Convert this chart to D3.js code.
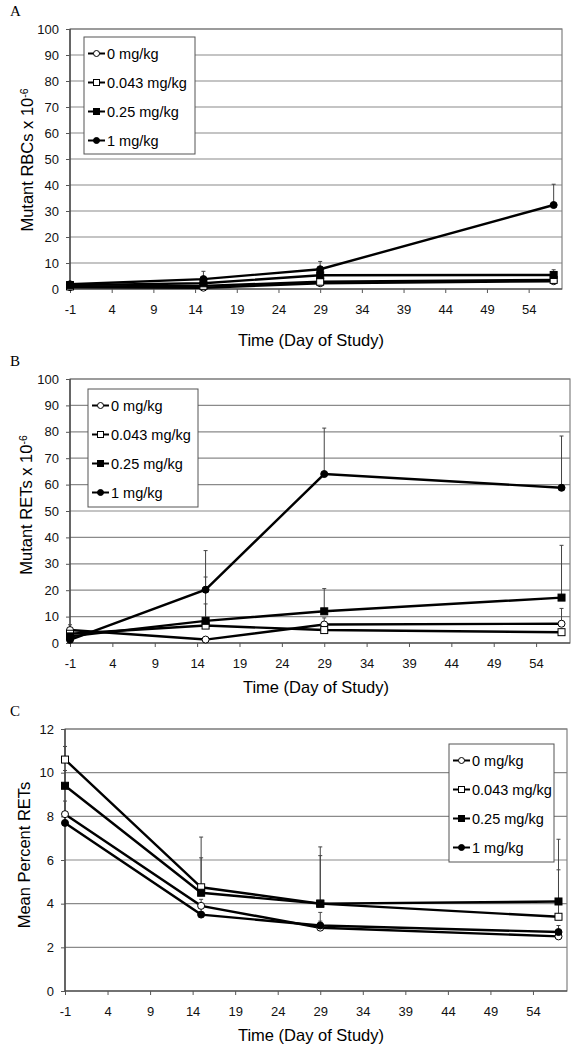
<!DOCTYPE html>
<html><head><meta charset="utf-8">
<script src="https://cdn.jsdelivr.net/npm/d3@7"></script>
<style>body{margin:0;background:#fff}svg{display:block}</style>
</head><body><svg id="c" width="581" height="1050"></svg>
<script>
// ---------- data ----------
const days = [-1, 15, 29, 57];
const doses = ["0 mg/kg", "0.043 mg/kg", "0.25 mg/kg", "1 mg/kg"];
const xTicks = [-1, 4, 9, 14, 19, 24, 29, 34, 39, 44, 49, 54];
const yTicksAB = [0, 10, 20, 30, 40, 50, 60, 70, 80, 90, 100];
const yTicksC = [0, 2, 4, 6, 8, 10, 12];

// Panel A: Mutant RBCs x 10^-6
const rbc0    = [0.7, 0.5, 2.2, 3.0];
const rbc0043 = [1.0, 1.2, 2.8, 3.5];
const rbc025  = [1.5, 2.2, 5.3, 5.4];
const rbc1    = [1.8, 3.8, 7.6, 32.3];
const rbc0Err    = [0.3, 0.3, 0.5, 0.5];
const rbc0043Err = [0.3, 0.4, 0.5, 0.6];
const rbc025Err  = [0.5, 1.0, 1.0, 2.0];
const rbc1Err    = [0.8, 3.0, 3.0, 8.0];

// Panel B: Mutant RETs x 10^-6
const ret0    = [4.9, 1.3, 7.0, 7.3];
const ret0043 = [3.5, 6.6, 4.9, 4.1];
const ret025  = [2.5, 8.4, 12.0, 17.2];
const ret1    = [1.2, 20.2, 64.0, 58.8];
const ret0Err    = [2.0, 0.5, 2.5, 5.8];
const ret0043Err = [1.0, 8.2, 1.0, 1.0];
const ret025Err  = [1.0, 16.6, 8.6, 19.8];
const ret1Err    = [1.0, 14.8, 17.4, 19.6];

// Panel C: Mean percent RETs
const pct0    = [8.1, 3.9, 2.9, 2.5];
const pct0043 = [10.6, 4.75, 4.0, 3.4];
const pct025  = [9.4, 4.5, 4.0, 4.1];
const pct1    = [7.7, 3.5, 3.0, 2.7];
const pct0Err    = [0.6, 0.3, 0.3, 0.3];
const pct0043Err = [0.6, 2.3, 2.6, 2.15];
const pct025Err  = [0.7, 1.6, 2.2, 2.85];
const pct1Err    = [0.5, 0.3, 0.6, 0.3];

// ---------- drawing ----------
const svg = d3.select("#c");
const markerKinds = ["openCircle", "openSquare", "filledSquare", "filledCircle"];
const FONT = "'Liberation Sans', Arial, sans-serif";

function drawMarker(g, kind, cx, cy, s) {
  const fill = kind.startsWith("open") ? "#fff" : "#000";
  if (kind.endsWith("Circle")) {
    g.append("circle").attr("cx", cx).attr("cy", cy).attr("r", s / 2)
      .attr("fill", fill).attr("stroke", "#000").attr("stroke-width", 1);
  } else {
    g.append("rect").attr("x", cx - s / 2).attr("y", cy - s / 2)
      .attr("width", s).attr("height", s)
      .attr("fill", fill).attr("stroke", "#000").attr("stroke-width", 1);
  }
}

function panel(cfg) {
  const x = d3.scaleLinear().domain([-1, 58]).range([cfg.left, cfg.right]);
  const y = d3.scaleLinear().domain([0, cfg.ymax]).range([cfg.bottom, cfg.top]);
  const g = svg.append("g");

  // gridlines
  g.selectAll(".grid").data(cfg.yTicks.slice(1)).enter().append("line")
    .attr("x1", cfg.left).attr("x2", cfg.right)
    .attr("y1", d => y(d)).attr("y2", d => y(d))
    .attr("stroke", "#8a8a8a").attr("stroke-width", 1.2);
  // plot border
  g.append("rect").attr("x", cfg.left).attr("y", cfg.top)
    .attr("width", cfg.right - cfg.left).attr("height", cfg.bottom - cfg.top)
    .attr("fill", "none").attr("stroke", "#808080").attr("stroke-width", 1.2);

  // axes
  const fmt = d => String(d);
  const ya = g.append("g").attr("transform", `translate(${cfg.left},0)`)
    .call(d3.axisLeft(y).tickValues(cfg.yTicks).tickFormat(fmt).tickSize(4).tickPadding(7).tickSizeOuter(0));
  const xa = g.append("g").attr("transform", `translate(0,${cfg.bottom})`)
    .call(d3.axisBottom(x).tickValues(xTicks).tickFormat(fmt).tickSize(4).tickPadding(12).tickSizeOuter(0));
  [ya, xa].forEach(a => {
    a.select(".domain").attr("stroke", "#333").attr("stroke-width", 1.2);
    a.selectAll(".tick line").attr("stroke", "#555");
    a.selectAll("text").attr("font-family", FONT).attr("font-size", 13).attr("fill", "#111");
  });
  ya.select(".domain").attr("d", `M0,${cfg.bottom}V${cfg.top}`);
  xa.select(".domain").attr("d", `M${cfg.left},0H${cfg.right}`);

  // series
  const line = d3.line().x((d, i) => x(days[i])).y(d => y(d));
  cfg.series.forEach((s) => {
    s.vals.forEach((v, i) => {
      const top = y(v + s.err[i]);
      g.append("line").attr("x1", x(days[i])).attr("x2", x(days[i]))
        .attr("y1", y(v)).attr("y2", top).attr("stroke", "#444").attr("stroke-width", 1);
      g.append("line").attr("x1", x(days[i]) - 2).attr("x2", x(days[i]) + 2)
        .attr("y1", top).attr("y2", top).attr("stroke", "#444").attr("stroke-width", 1);
    });
  });
  cfg.series.forEach((s, si) => {
    g.append("path").datum(s.vals).attr("d", line)
      .attr("fill", "none").attr("stroke", "#000").attr("stroke-width", 2.4);
    s.vals.forEach((v, i) => drawMarker(g, markerKinds[si], x(days[i]), y(v), 7));
  });

  // legend
  const L = cfg.legend;
  const lg = g.append("g").attr("transform", `translate(${L.x},${L.y})`);
  lg.append("rect").attr("width", L.w).attr("height", L.h)
    .attr("fill", "#fff").attr("stroke", "#555").attr("stroke-width", 1);
  doses.forEach((d, i) => {
    const yy = 16.5 + i * 29;
    lg.append("line").attr("x1", 4).attr("x2", 21).attr("y1", yy).attr("y2", yy)
      .attr("stroke", "#000").attr("stroke-width", 2);
    drawMarker(lg, markerKinds[i], 12.5, yy, 6);
    lg.append("text").attr("x", 23).attr("y", yy).attr("dy", "0.35em")
      .attr("font-family", FONT).attr("font-size", 14.5).attr("fill", "#000").text(d);
  });

  // titles
  svg.append("text").attr("x", cfg.xTitleX).attr("y", cfg.bottom + 51 + cfg.xTitleDy)
    .attr("dy", "0.35em").attr("text-anchor", "middle")
    .attr("font-family", FONT).attr("font-size", 16.5).attr("fill", "#000")
    .text("Time (Day of Study)");
  const yt = svg.append("text")
    .attr("transform", `translate(${cfg.yTitleX},${cfg.yTitleY}) rotate(-90)`)
    .attr("text-anchor", "middle").attr("font-family", FONT)
    .attr("font-size", 16.5).attr("fill", "#000");
  yt.append("tspan").text(cfg.yTitle);
  if (cfg.sup) {
    yt.append("tspan").attr("dy", "-0.45em").attr("font-size", 10.5).text(cfg.sup);
  }
  svg.append("text").attr("x", 10).attr("y", cfg.letterY)
    .attr("font-family", "'Liberation Serif', 'Times New Roman', serif")
    .attr("font-size", 15).attr("fill", "#000").text(cfg.letter);
}

panel({
  letter: "A", letterY: 16,
  left: 70, right: 562, top: 29, bottom: 289, ymax: 100, yTicks: yTicksAB,
  legend: { x: 84, y: 37, w: 111, h: 117 },
  xTitleX: 311, xTitleDy: 0,
  yTitle: "Mutant RBCs x 10", sup: "-6", yTitleX: 33, yTitleY: 160,
  series: [
    { vals: rbc0, err: rbc0Err }, { vals: rbc0043, err: rbc0043Err },
    { vals: rbc025, err: rbc025Err }, { vals: rbc1, err: rbc1Err }
  ]
});
panel({
  letter: "B", letterY: 366,
  left: 70, right: 570, top: 379, bottom: 643, ymax: 100, yTicks: yTicksAB,
  legend: { x: 88, y: 389, w: 110, h: 118 },
  xTitleX: 316, xTitleDy: -7,
  yTitle: "Mutant RETs x 10", sup: "-6", yTitleX: 32, yTitleY: 505,
  series: [
    { vals: ret0, err: ret0Err }, { vals: ret0043, err: ret0043Err },
    { vals: ret025, err: ret025Err }, { vals: ret1, err: ret1Err }
  ]
});
panel({
  letter: "C", letterY: 716,
  left: 65, right: 567, top: 729, bottom: 991, ymax: 12, yTicks: yTicksC,
  legend: { x: 449, y: 744, w: 105, h: 118 },
  xTitleX: 311, xTitleDy: -7,
  yTitle: "Mean Percent RETs", sup: null, yTitleX: 30, yTitleY: 855,
  series: [
    { vals: pct0, err: pct0Err }, { vals: pct0043, err: pct0043Err },
    { vals: pct025, err: pct025Err }, { vals: pct1, err: pct1Err }
  ]
});
</script>
</body></html>
